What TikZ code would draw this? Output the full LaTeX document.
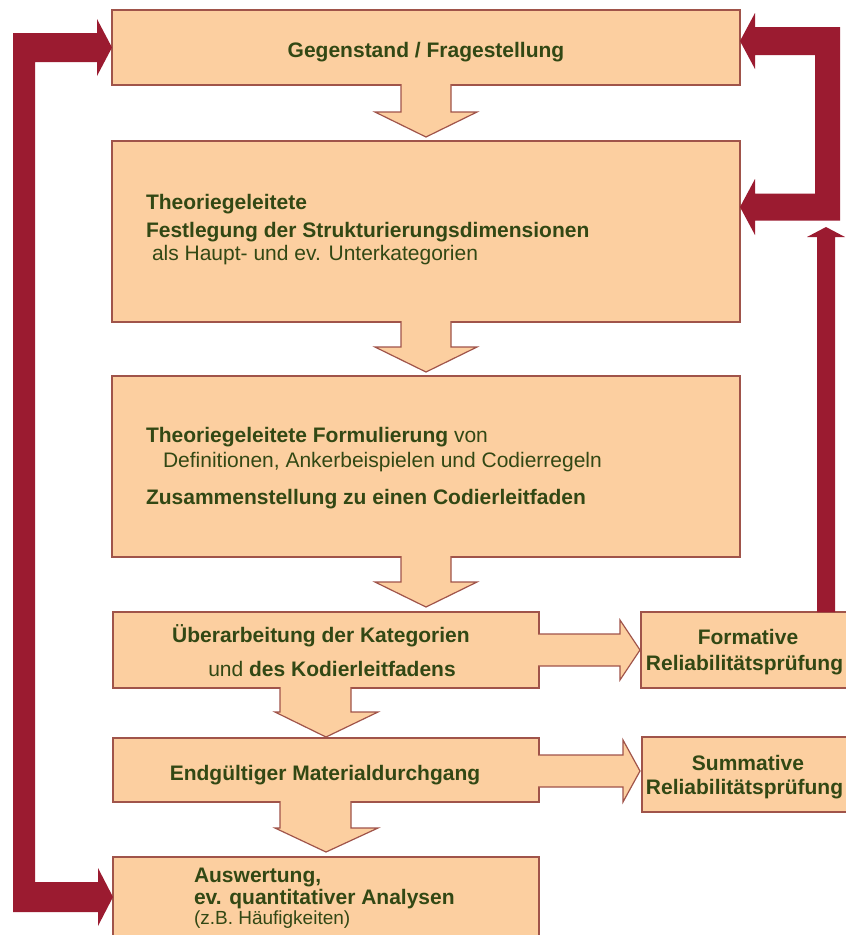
\documentclass[tikz,border=0pt]{standalone}
\usepackage{fontspec}
\setmainfont{Liberation Sans}
\usetikzlibrary{calc}
\definecolor{peach}{RGB}{252,207,160}
\definecolor{edge}{RGB}{160,84,74}
\definecolor{loopred}{RGB}{155,27,48}
\definecolor{txtgreen}{RGB}{50,72,20}
\tikzset{
  box/.style={draw=edge, fill=peach, line width=1.2pt, inner sep=0pt, outer sep=0pt, rectangle},
  barrow/.style={draw=edge, fill=peach, line width=1.2pt, line join=miter},
  redloop/.style={fill=loopred},
  lbl/.style={inner sep=0pt, outer sep=0pt, text=txtgreen, font=\fontsize{21}{24}\selectfont\bfseries},
  reg/.style={inner sep=0pt, outer sep=0pt, text=txtgreen, font=\fontsize{21}{24}\selectfont},
  small/.style={inner sep=0pt, outer sep=0pt, text=txtgreen, font=\fontsize{19}{22}\selectfont}
}
\begin{document}
\begin{tikzpicture}[x=1pt,y=-1pt]
\useasboundingbox[fill=white] (0,0) rectangle (846,935);

% boxes
\node[box, minimum width=628pt, minimum height=75pt] (b1) at (426,47.5) {};
\node[box, minimum width=628pt, minimum height=181pt] (b2) at (426,231.5) {};
\node[box, minimum width=628pt, minimum height=181pt] (b3) at (426,466.5) {};
\node[box, minimum width=426pt, minimum height=76pt] (b4) at (326,650) {};
\node[box, minimum width=426pt, minimum height=64pt] (b5) at (326,770) {};
\node[box, minimum width=426pt, minimum height=86pt] (b6) at (326,900) {};
\node[box, minimum width=220pt, minimum height=76pt] (bF) at (751,650) {};
\node[box, minimum width=219pt, minimum height=75pt] (bS) at (751.5,774.5) {};
\coordinate (Ftip) at (826,227);

% red feedback arrows
\fill[redloop] let \p1=(b1.west), \p2=([yshift=3pt]b6.west) in
  (13pt,\y1+14.5pt) -- (\x1-15pt,\y1+14.5pt) -- (\x1-15pt,\y1+28.5pt) -- (\x1,\y1)
  -- (\x1-15pt,\y1-28.5pt) -- (\x1-15pt,\y1-14.5pt) -- (35pt,\y1-14.5pt)
  -- (35pt,\y2+15pt) -- (\x2-15pt,\y2+15pt) -- (\x2-15pt,\y2+29pt) -- (\x2,\y2)
  -- (\x2-15pt,\y2-29pt) -- (\x2-15pt,\y2-15pt) -- (13pt,\y2-15pt) -- cycle;
\fill[redloop] let \p1=([yshift=6.5pt]b1.east), \p2=([yshift=24.5pt]b2.east) in
  (\x1,\y1) -- (\x1+15pt,\y1+28pt) -- (\x1+15pt,\y1+14pt) -- (840pt,\y1+14pt)
  -- (840pt,\y2-13.5pt) -- (\x2+15pt,\y2-13.5pt) -- (\x2+15pt,\y2-28pt) -- (\x2,\y2)
  -- (\x2+15pt,\y2+28pt) -- (\x2+15pt,\y2+13.5pt) -- (815pt,\y2+13.5pt)
  -- (815pt,\y1-14pt) -- (\x1+15pt,\y1-14pt) -- (\x1+15pt,\y1-28pt) -- cycle;
\fill[redloop] let \p1=([xshift=75pt]bF.north), \p2=(Ftip) in
  (\x1-9pt,\y1) -- (\x1-9pt,\y2-10pt) -- (\x1-19pt,\y2-10pt) -- (\x1,\y2)
  -- (\x1+19pt,\y2-10pt) -- (\x1+9pt,\y2-10pt) -- (\x1+9pt,\y1) -- cycle;

% block arrows down
\filldraw[barrow] let \p1=(b1.south), \p2=(b2.north) in
 (\x1-25pt,\y1+1pt) -- (\x1-25pt,\y2+29pt) -- (\x1-51pt,\y2+29pt) -- (\x1,\y2+4pt)
 -- (\x1+51pt,\y2+29pt) -- (\x1+25pt,\y2+29pt) -- (\x1+25pt,\y1+1pt);
\filldraw[barrow] let \p1=(b2.south), \p2=(b3.north) in
 (\x1-25pt,\y1+1pt) -- (\x1-25pt,\y2+29pt) -- (\x1-51pt,\y2+29pt) -- (\x1,\y2+4pt)
 -- (\x1+51pt,\y2+29pt) -- (\x1+25pt,\y2+29pt) -- (\x1+25pt,\y1+1pt);
\filldraw[barrow] let \p1=(b3.south), \p2=(b4.north) in
 (\x1-25pt,\y1+1pt) -- (\x1-25pt,\y2+30pt) -- (\x1-51pt,\y2+30pt) -- (\x1,\y2+5pt)
 -- (\x1+51pt,\y2+30pt) -- (\x1+25pt,\y2+30pt) -- (\x1+25pt,\y1+1pt);
\filldraw[barrow] let \p1=(b4.south), \p2=(b5.north) in
 (\x1-46pt,\y1+1pt) -- (\x1-46pt,\y2+26pt) -- (\x1-51pt,\y2+26pt) -- (\x1,\y2+1pt)
 -- (\x1+52pt,\y2+26pt) -- (\x1+25pt,\y2+26pt) -- (\x1+25pt,\y1+1pt);
\filldraw[barrow] let \p1=(b5.south), \p2=(b6.north) in
 (\x1-46pt,\y1+1pt) -- (\x1-46pt,\y2+29pt) -- (\x1-51pt,\y2+29pt) -- (\x1,\y2+5pt)
 -- (\x1+52pt,\y2+29pt) -- (\x1+25pt,\y2+29pt) -- (\x1+25pt,\y1+1pt);

% block arrows right
\filldraw[barrow] let \p1=(b4.east), \p2=(bF.west) in
 (\x1-1pt,\y1+16pt) -- (\x2-21pt,\y1+16pt) -- (\x2-21pt,\y1+30pt) -- (\x2-1pt,\y1)
 -- (\x2-21pt,\y1-30pt) -- (\x2-21pt,\y1-16pt) -- (\x1-1pt,\y1-16pt);
\filldraw[barrow] let \p1=([yshift=-1pt]b5.east), \p2=(bS.west) in
 (\x1-1pt,\y1+16pt) -- (\x2-19pt,\y1+16pt) -- (\x2-19pt,\y1+31pt) -- (\x2-2pt,\y1)
 -- (\x2-19pt,\y1-31pt) -- (\x2-19pt,\y1-16pt) -- (\x1-1pt,\y1-16pt);

% texts
\node[lbl, anchor=base] (t1) at (426,57) {Gegenstand / Fragestellung};

\node[lbl, anchor=base west] (t2a) at (146,209) {Theoriegeleitete};
\node[lbl, anchor=base west] (t2b) at (146,237) {Festlegung der Strukturierungsdimensionen};
\node[reg, anchor=base west] (t2c) at (152,260) {als Haupt- und ev. Unterkategorien};

\node[lbl, anchor=base west] (t3a) at (146,442) {Theoriegeleitete Formulierung {\mdseries von}};
\node[reg, anchor=base west] (t3b) at (163,467) {Definitionen, Ankerbeispielen und Codierregeln};
\node[lbl, anchor=base west] (t3c) at (146,504) {Zusammenstellung zu einen Codierleitfaden};

\node[lbl, anchor=base] (t4a) at (321,642) {Überarbeitung der Kategorien};
\node[lbl, anchor=base] (t4b) at (332,676) {{\mdseries und} des Kodierleitfadens};

\node[lbl, anchor=base] (t5) at (325,780) {Endgültiger Materialdurchgang};

\node[lbl, anchor=base west] (t6a) at (194,882) {Auswertung,};
\node[lbl, anchor=base west] (t6b) at (194,904) {ev. quantitativer Analysen};
\node[small, anchor=base west] (t6c) at (194,924) {(z.B. Häufigkeiten)};

\node[lbl, anchor=base] (tFa) at (748,644) {Formative};
\node[lbl, anchor=base] (tFb) at (744.5,670) {Reliabilitätsprüfung};

\node[lbl, anchor=base] (tSa) at (748,770) {Summative};
\node[lbl, anchor=base] (tSb) at (744.5,794) {Reliabilitätsprüfung};
\end{tikzpicture}
\end{document}
